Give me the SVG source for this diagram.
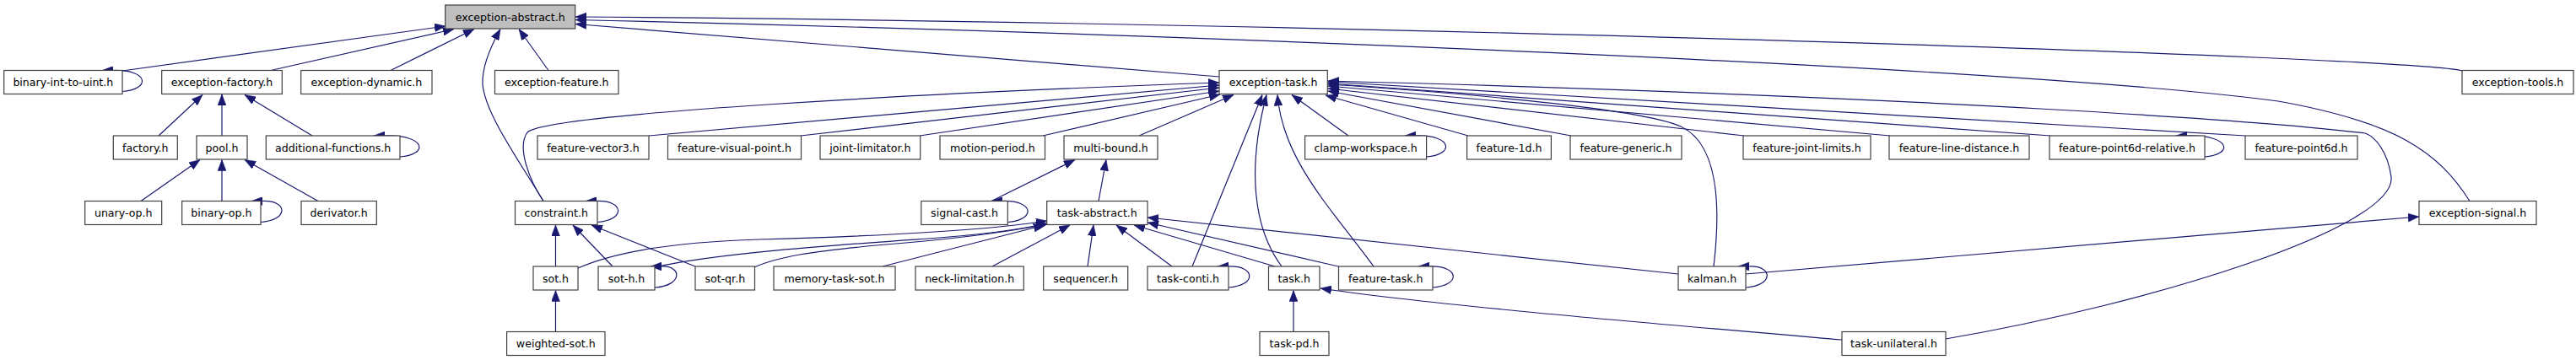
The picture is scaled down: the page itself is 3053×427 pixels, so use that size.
<svg xmlns="http://www.w3.org/2000/svg" width="3053" height="427" viewBox="0 0 3053 427">
<style>
.node rect{fill:#ffffff;stroke:#404040;stroke-width:1.2}
.node.root rect{fill:#bfbfbf}
.node text{font-family:"DejaVu Sans","Liberation Sans",sans-serif;font-size:12.6px;text-anchor:middle;fill:#000}
.edges path{fill:none;stroke:#191970;stroke-width:1.2;marker-end:url(#arr)}
</style>
<defs>
<marker id="arr" markerUnits="userSpaceOnUse" viewBox="0 0 13 10" refX="13" refY="5" markerWidth="13" markerHeight="10" orient="auto">
<path d="M0,0 L13,5 L0,10 z" fill="#191970" stroke="#191970" stroke-width="0.5"/>
</marker>
</defs>
<rect x="0" y="0" width="3053" height="427" fill="#ffffff"/>
<g class="edges" id="edges">
<path d="M145,84 L528,31"/>
<path d="M321,83.5 L538,34.5"/>
<path d="M463,83.5 L562,34.5"/>
<path d="M644,238.5 C615,190 575,135 572,100 C571,80 580,58 593,34.5"/>
<path d="M650,83.5 L615,34.5"/>
<path d="M1445,91 L682,28.5"/>
<path d="M2918,84 C2870,68 1600,27 682,20"/>
<path d="M2927,238.5 C2890,180 2840,145 2700,120 C2400,80 1400,40 682,23.5"/>
<path d="M188,161 L240,112.5"/>
<path d="M263,161 L263,112"/>
<path d="M370,161 L290,112.5"/>
<path d="M167,238.5 L237,189.5"/>
<path d="M263,238.5 L263,189.5"/>
<path d="M377,238.5 L290,189.5"/>
<path d="M644,238.5 C628,215 612,175 625,157 C645,135 1100,110 1445,98"/>
<path d="M769,161 L1445,101"/>
<path d="M949,161 L1445,104"/>
<path d="M1090,161 L1445,108"/>
<path d="M1236,161 L1446,112"/>
<path d="M1350,161 L1462,112.5"/>
<path d="M1413,316 L1496,112.5"/>
<path d="M1519,316 C1485,270 1478,200 1501,112.5"/>
<path d="M1628,316 C1580,250 1520,190 1514,112.5"/>
<path d="M1598,161 L1531,112.5"/>
<path d="M1740,161 L1571,113"/>
<path d="M1862,161 L1574,108"/>
<path d="M2067,161 L1574,105"/>
<path d="M2240,161 L1574,102"/>
<path d="M2430,161 L1574,99"/>
<path d="M2661,161 L1574,97"/>
<path d="M2031,316 C2040,240 2035,170 1992,150 C1940,127 1700,108 1574,100"/>
<path d="M2306,402 C2550,360 2840,270 2834,210 C2830,180 2815,162 2803,158 C2700,145 2300,115 1574,96"/>
<path d="M2069,325 L2867,257"/>
<path d="M1175,238.5 L1274,189.5"/>
<path d="M1302,238.5 L1311,189.5"/>
<path d="M685,318 C730,298 800,287 900,284 C1050,280 1180,272 1241,262"/>
<path d="M776,317 C850,300 1000,290 1100,283 C1170,278 1210,272 1241,265"/>
<path d="M894,317 C920,305 960,298 1050,290 C1150,282 1210,272 1241,266"/>
<path d="M1046,316 L1238,267"/>
<path d="M1176,316 L1268,267"/>
<path d="M1289,316 L1296,267"/>
<path d="M1389,316 L1323,267"/>
<path d="M1511,316 L1344,267"/>
<path d="M1586,316 L1360,264"/>
<path d="M1989,325 L1360,258"/>
<path d="M658.5,316 L658.5,267"/>
<path d="M726,316 L679,267"/>
<path d="M824,316 L701,267"/>
<path d="M658.5,393.5 L658.5,344.5"/>
<path d="M1533,393.5 L1533,344.5"/>
<path d="M2183,403 C1950,383 1700,362 1565,342"/>
<path d="M145,108.5 C178,106.5 178,82.5 134,83.5 L121,83.5"/>
<path d="M474,186 C507,184 507,160 456,161 L443,161"/>
<path d="M309,263.5 C342,261.5 342,237.5 311,238.5 L298,238.5"/>
<path d="M708,263.5 C741,261.5 741,237.5 707,238.5 L694,238.5"/>
<path d="M1194.3,263.5 C1227,261.5 1227,237.5 1188,238.5 L1175,238.5"/>
<path d="M776,341 C809,339 809,315 784,316 L771,316"/>
<path d="M1690.6,186 C1723,184 1723,160 1678,161 L1665,161"/>
<path d="M2613,186 C2646,184 2646,160 2592,161 L2579,161"/>
<path d="M1456,341 C1489,339 1489,315 1456,316 L1443,316"/>
<path d="M1698,341 C1731,339 1731,315 1694,316 L1681,316"/>
<path d="M2069,341 C2102,339 2102,315 2073,316 L2060,316"/>
</g>
<g class="node root" id="exception-abstract"><rect x="527.7" y="6" width="154" height="28"/><text x="604.7" y="24.5">exception-abstract.h</text></g>
<g class="node" id="binary-int-to-uint"><rect x="4.7" y="83.5" width="140.3" height="28"/><text x="74.85" y="102">binary-int-to-uint.h</text></g>
<g class="node" id="exception-factory"><rect x="191.7" y="83.5" width="142.6" height="28"/><text x="263" y="102">exception-factory.h</text></g>
<g class="node" id="exception-dynamic"><rect x="356.7" y="83.5" width="155.3" height="28"/><text x="434.35" y="102">exception-dynamic.h</text></g>
<g class="node" id="exception-feature"><rect x="586.5" y="83.5" width="146.5" height="28"/><text x="659.75" y="102">exception-feature.h</text></g>
<g class="node" id="exception-task"><rect x="1445" y="83.5" width="128.3" height="28"/><text x="1509.15" y="102">exception-task.h</text></g>
<g class="node" id="exception-tools"><rect x="2918" y="83.5" width="132" height="28"/><text x="2984" y="102">exception-tools.h</text></g>
<g class="node" id="factory"><rect x="134.3" y="161" width="76" height="28"/><text x="172.3" y="179.5">factory.h</text></g>
<g class="node" id="pool"><rect x="233" y="161" width="60" height="28"/><text x="263" y="179.5">pool.h</text></g>
<g class="node" id="additional-functions"><rect x="315.3" y="161" width="158.7" height="28"/><text x="394.65" y="179.5">additional-functions.h</text></g>
<g class="node" id="feature-vector3"><rect x="637" y="161" width="132" height="28"/><text x="703" y="179.5">feature-vector3.h</text></g>
<g class="node" id="feature-visual-point"><rect x="791.5" y="161" width="158" height="28"/><text x="870.5" y="179.5">feature-visual-point.h</text></g>
<g class="node" id="joint-limitator"><rect x="972" y="161" width="118.7" height="28"/><text x="1031.35" y="179.5">joint-limitator.h</text></g>
<g class="node" id="motion-period"><rect x="1114" y="161" width="124.5" height="28"/><text x="1176.25" y="179.5">motion-period.h</text></g>
<g class="node" id="multi-bound"><rect x="1261" y="161" width="111" height="28"/><text x="1316.5" y="179.5">multi-bound.h</text></g>
<g class="node" id="clamp-workspace"><rect x="1546.6" y="161" width="144" height="28"/><text x="1618.6" y="179.5">clamp-workspace.h</text></g>
<g class="node" id="feature-1d"><rect x="1738.6" y="161" width="99.8" height="28"/><text x="1788.5" y="179.5">feature-1d.h</text></g>
<g class="node" id="feature-generic"><rect x="1861" y="161" width="132" height="28"/><text x="1927" y="179.5">feature-generic.h</text></g>
<g class="node" id="feature-joint-limits"><rect x="2066" y="161" width="151" height="28"/><text x="2141.5" y="179.5">feature-joint-limits.h</text></g>
<g class="node" id="feature-line-distance"><rect x="2239" y="161" width="166" height="28"/><text x="2322" y="179.5">feature-line-distance.h</text></g>
<g class="node" id="feature-point6d-relative"><rect x="2429" y="161" width="184" height="28"/><text x="2521" y="179.5">feature-point6d-relative.h</text></g>
<g class="node" id="feature-point6d"><rect x="2661" y="161" width="133" height="28"/><text x="2727.5" y="179.5">feature-point6d.h</text></g>
<g class="node" id="unary-op"><rect x="100.7" y="238.5" width="91" height="28"/><text x="146.2" y="257">unary-op.h</text></g>
<g class="node" id="binary-op"><rect x="215.7" y="238.5" width="93.3" height="28"/><text x="262.35" y="257">binary-op.h</text></g>
<g class="node" id="derivator"><rect x="357" y="238.5" width="89.3" height="28"/><text x="401.65" y="257">derivator.h</text></g>
<g class="node" id="constraint"><rect x="610.5" y="238.5" width="97.5" height="28"/><text x="659.25" y="257">constraint.h</text></g>
<g class="node" id="signal-cast"><rect x="1091.8" y="238.5" width="102.5" height="28"/><text x="1143.05" y="257">signal-cast.h</text></g>
<g class="node" id="task-abstract"><rect x="1240.7" y="238.5" width="119.3" height="28"/><text x="1300.35" y="257">task-abstract.h</text></g>
<g class="node" id="exception-signal"><rect x="2867" y="238.5" width="139" height="28"/><text x="2936.5" y="257">exception-signal.h</text></g>
<g class="node" id="sot"><rect x="632" y="316" width="53" height="28"/><text x="658.5" y="334.5">sot.h</text></g>
<g class="node" id="sot-h"><rect x="709" y="316" width="67" height="28"/><text x="742.5" y="334.5">sot-h.h</text></g>
<g class="node" id="sot-qr"><rect x="824" y="316" width="70.5" height="28"/><text x="859.25" y="334.5">sot-qr.h</text></g>
<g class="node" id="memory-task-sot"><rect x="917" y="316" width="144" height="28"/><text x="989" y="334.5">memory-task-sot.h</text></g>
<g class="node" id="neck-limitation"><rect x="1085" y="316" width="128.3" height="28"/><text x="1149.15" y="334.5">neck-limitation.h</text></g>
<g class="node" id="sequencer"><rect x="1236.7" y="316" width="100" height="28"/><text x="1286.7" y="334.5">sequencer.h</text></g>
<g class="node" id="task-conti"><rect x="1360" y="316" width="96" height="28"/><text x="1408" y="334.5">task-conti.h</text></g>
<g class="node" id="task"><rect x="1503.5" y="316" width="60.5" height="28"/><text x="1533.75" y="334.5">task.h</text></g>
<g class="node" id="feature-task"><rect x="1586.5" y="316" width="111.5" height="28"/><text x="1642.25" y="334.5">feature-task.h</text></g>
<g class="node" id="kalman"><rect x="1989" y="316" width="80" height="28"/><text x="2029" y="334.5">kalman.h</text></g>
<g class="node" id="weighted-sot"><rect x="600.6" y="393.5" width="116.4" height="28"/><text x="658.8" y="412">weighted-sot.h</text></g>
<g class="node" id="task-pd"><rect x="1493" y="393.5" width="82" height="28"/><text x="1534" y="412">task-pd.h</text></g>
<g class="node" id="task-unilateral"><rect x="2183" y="393.5" width="123" height="28"/><text x="2244.5" y="412">task-unilateral.h</text></g>
</svg>
